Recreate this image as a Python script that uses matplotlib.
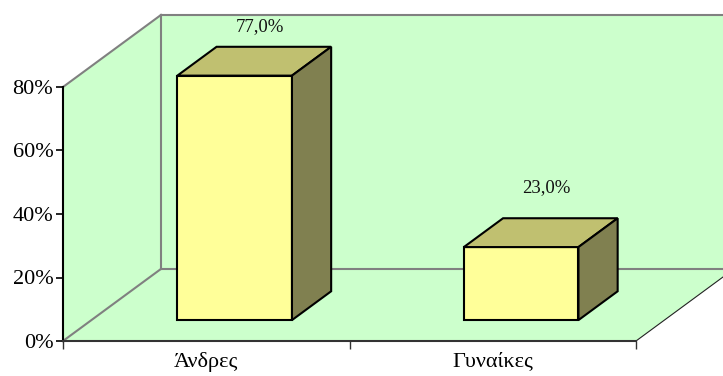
import matplotlib
matplotlib.use("Agg")
import matplotlib.pyplot as plt
from matplotlib.patches import Polygon

categories = ["Άνδρες", "Γυναίκες"]
values = [77.0, 23.0]
yticks = [0, 20, 40, 60, 80]
ytick_labels = ["0%", "20%", "40%", "60%", "80%"]

W, H = 723, 376
fig = plt.figure(figsize=(W / 100, H / 100), dpi=100)
# front plane of the 3D box
ax = fig.add_axes([63 / W, (H - 341) / H, 573 / W, 254 / H])
ax.set_xlim(-0.5, 1.5)
ax.set_ylim(0, 80)
ax.patch.set_alpha(0)

# depth offset (data units)
DX, DY = 0.342, 22.7
F0, F1 = 0.29, 0.69
BW = 0.4

green = "#CCFFCC"
wall = "#808080"

x0, x1 = -0.5, 1.5
# left wall
ax.add_patch(Polygon([(x0, 0), (x0, 80), (x0 + DX, 80 + DY), (x0 + DX, DY)],
                     closed=True, facecolor=green, edgecolor="none", clip_on=False, zorder=0))
# back wall
ax.add_patch(Polygon([(x0 + DX, DY), (x0 + DX, 80 + DY), (x1 + DX, 80 + DY), (x1 + DX, DY)],
                     closed=True, facecolor=green, edgecolor="none", clip_on=False, zorder=0))
# floor
ax.add_patch(Polygon([(x0, 0), (x1, 0), (x1 + DX, DY), (x0 + DX, DY)],
                     closed=True, facecolor=green, edgecolor="none", clip_on=False, zorder=0))

kw = dict(color=wall, lw=1.5, clip_on=False, zorder=1)
ax.plot([x0, x0 + DX], [80, 80 + DY], **kw)
ax.plot([x0, x0 + DX], [0, DY], **kw)
ax.plot([x0 + DX, x0 + DX], [DY, 80 + DY], **kw)
ax.plot([x0 + DX, x1 + DX], [80 + DY, 80 + DY], **kw)
ax.plot([x0 + DX, x1 + DX], [DY, DY], **kw)
ax.plot([x1, x1 + DX], [0, DY], color="#222222", lw=0.8, clip_on=False, zorder=1)

front_c = "#FFFF99"
top_c = "#C0C070"
side_c = "#808050"

for i, v in enumerate(values):
    l = i - BW / 2 + F0 * DX
    r = i + BW / 2 + F0 * DX
    b = F0 * DY
    t = b + v
    ddx = (F1 - F0) * DX
    ddy = (F1 - F0) * DY
    pk = dict(closed=True, edgecolor="black", lw=1.5, clip_on=False, zorder=3, joinstyle="miter")
    ax.add_patch(Polygon([(l, b), (r, b), (r, t), (l, t)], facecolor=front_c, **pk))
    ax.add_patch(Polygon([(l, t), (r, t), (r + ddx, t + ddy), (l + ddx, t + ddy)], facecolor=top_c, **pk))
    ax.add_patch(Polygon([(r, b), (r + ddx, b + ddy), (r + ddx, t + ddy), (r, t)], facecolor=side_c, **pk))
    lbl = f"{v:.1f}".replace(".", ",") + "%"
    ax.text(i + (F0 + F1) / 2 * DX + 0.02, 0.94 * v + 26.6, lbl, ha="center", va="center",
            family="Liberation Serif", fontsize=13.5, color="#111111", zorder=4, clip_on=False)

for s in ["top", "right"]:
    ax.spines[s].set_visible(False)
ax.spines["left"].set_color("black")
ax.spines["left"].set_linewidth(1.5)
ax.spines["bottom"].set_color("#333333")
ax.spines["bottom"].set_linewidth(1.5)
ax.spines["left"].set_zorder(2)
ax.spines["bottom"].set_zorder(2)

ax.set_yticks(yticks)
ax.set_yticklabels(ytick_labels, family="Liberation Serif", fontsize=16)
ax.tick_params(axis="y", direction="out", length=5, width=1.2, color="black", pad=2)

ax.set_xticks([-0.5, 0.5, 1.5])
ax.set_xticklabels(["", "", ""])
ax.tick_params(axis="x", which="major", direction="out", length=6, width=1.0, color="#333333")
ax.set_xticks([0, 1], minor=True)
ax.set_xticklabels(categories, minor=True, family="Liberation Serif", fontsize=16)
ax.tick_params(axis="x", which="minor", length=0, pad=8)

fig.savefig("out.png", dpi=100)
